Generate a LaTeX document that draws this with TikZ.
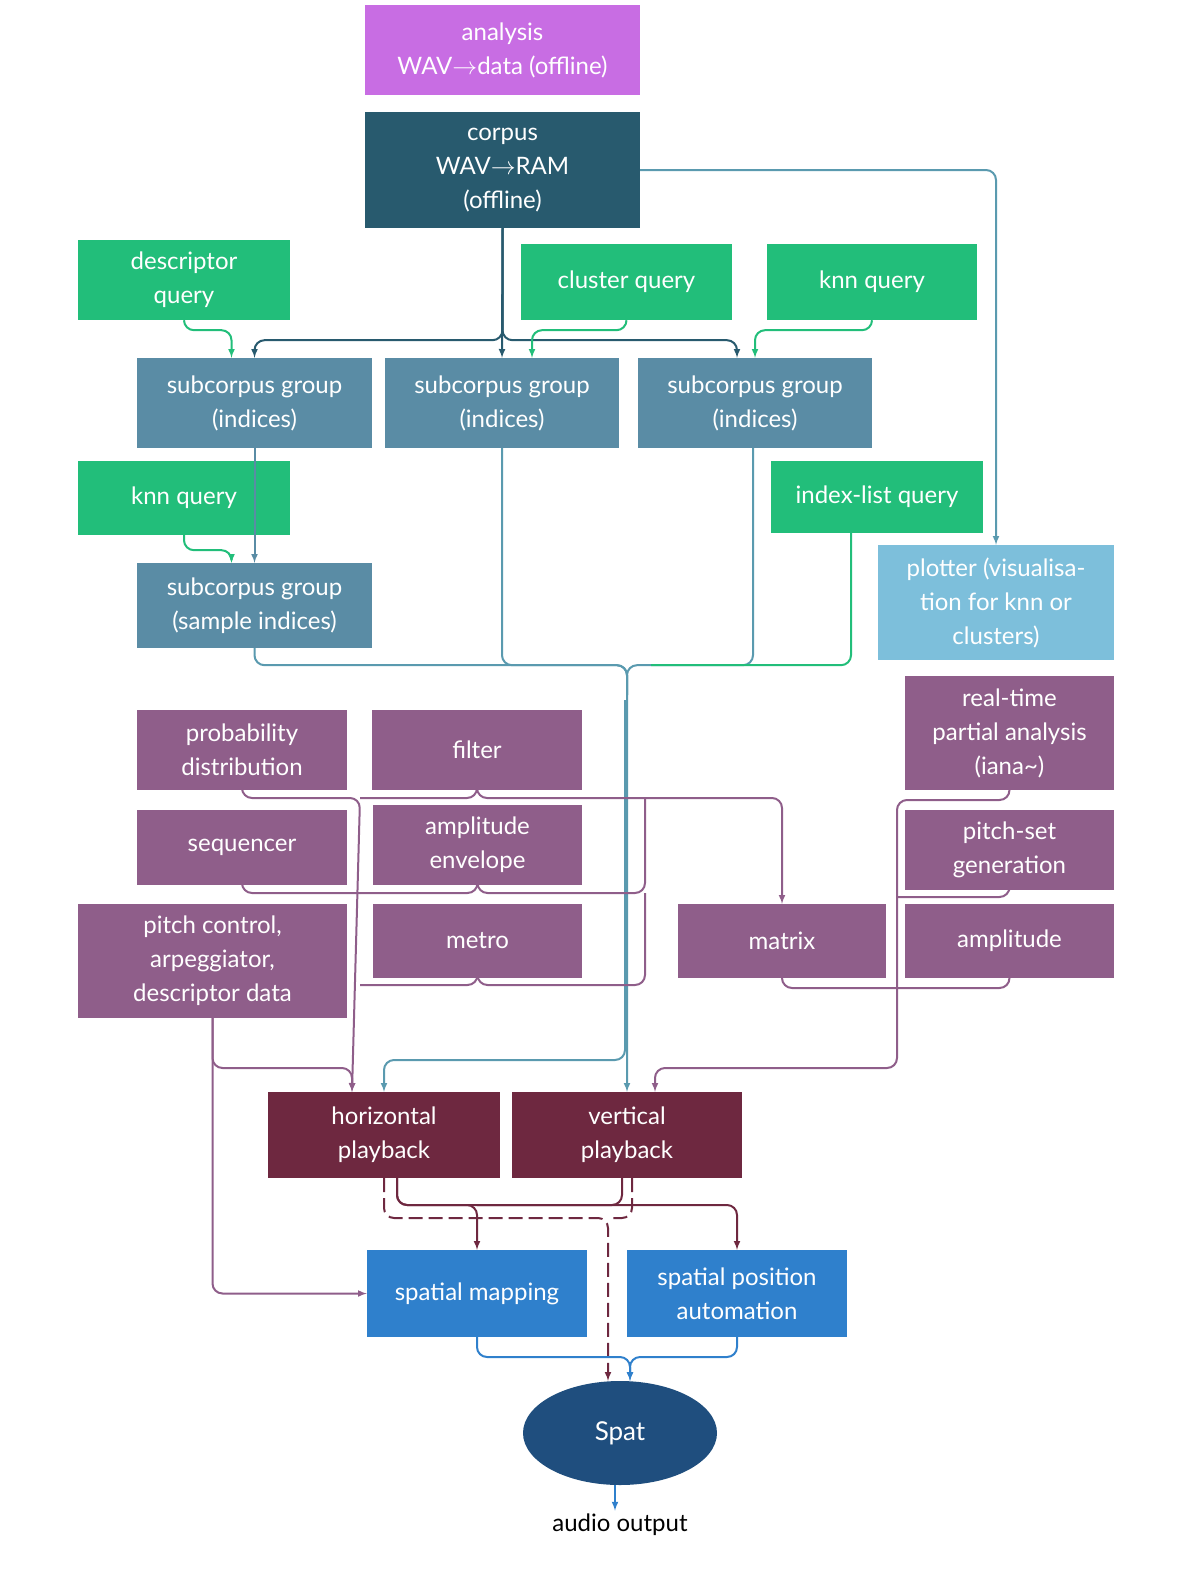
\documentclass[tikz,border=0pt]{standalone}
\usepackage{fontspec}
\setmainfont{Lato}
\usetikzlibrary{arrows,shapes.geometric}
\definecolor{cmag}{HTML}{C86DE3}
\definecolor{ccorp}{HTML}{285A6E}
\definecolor{cgreen}{HTML}{22BE7A}
\definecolor{csub}{HTML}{5A8CA5}
\definecolor{cplot}{HTML}{7DBFDB}
\definecolor{cpurp}{HTML}{8F5E8A}
\definecolor{cplay}{HTML}{6E2840}
\definecolor{cblue}{HTML}{2F80CC}
\definecolor{cspat}{HTML}{1F4E7E}
\definecolor{cteal}{HTML}{5A9AAF}
\tikzset{
  box/.style={fill=#1, text=white, inner sep=2pt, align=center, font=\fontsize{24}{34}\selectfont},
  ln/.style={draw=#1, line width=2pt, rounded corners=10pt, -latex},
  nt/.style={draw=#1, line width=2pt, rounded corners=10pt}
}
\begin{document}
\begin{tikzpicture}[x=1pt,y=-1pt]
\useasboundingbox (0,0) rectangle (1200,1583);
% sources
\node[box=cmag, minimum width=275, minimum height=90] (analysis) at (502.5,50) {analysis\\WAV$\rightarrow$data (offline)};
\node[box=ccorp, minimum width=275, minimum height=116] (corpus) at (502.5,170) {corpus\\WAV$\rightarrow$RAM\\(offline)};
\node[box=cgreen, minimum width=212, minimum height=80] (descq) at (184,280) {descriptor\\query};
\node[box=cgreen, minimum width=211, minimum height=76] (clusq) at (626.5,282) {cluster query};
\node[box=cgreen, minimum width=210, minimum height=76] (knnq) at (872,282) {knn query};
\node[box=csub, minimum width=235, minimum height=90] (subA) at (254.5,403) {subcorpus group\\(indices)};
\node[box=csub, minimum width=234, minimum height=90] (subB) at (502,403) {subcorpus group\\(indices)};
\node[box=csub, minimum width=234, minimum height=90] (subC) at (755,403) {subcorpus group\\(indices)};
\node[box=cgreen, minimum width=212, minimum height=74] (knnqb) at (184,498) {knn query};
\node[box=cgreen, minimum width=212, minimum height=72] (idxq) at (877,497) {index-list query};
\node[box=csub, minimum width=235, minimum height=85] (subD) at (254.5,605.5) {subcorpus group\\(sample indices)};
\node[box=cplot, minimum width=236, minimum height=115] (plotter) at (996,602.5) {plotter (visualisa-\\tion for knn or\\clusters)};
% control
\node[box=cpurp, minimum width=210, minimum height=80] (prob) at (242,750) {probability\\distribution};
\node[box=cpurp, minimum width=210, minimum height=80] (filter) at (477,750) {filter};
\node[box=cpurp, minimum width=209, minimum height=114] (iana) at (1009.5,733) {real-time\\partial analysis\\(iana\textasciitilde)};
\node[box=cpurp, minimum width=210, minimum height=75] (seq) at (242,847.5) {sequencer};
\node[box=cpurp, minimum width=209, minimum height=80] (env) at (477.5,845) {amplitude\\envelope};
\node[box=cpurp, minimum width=209, minimum height=80] (pset) at (1009.5,850) {pitch-set\\generation};
\node[box=cpurp, minimum width=269, minimum height=114] (pitch) at (212.5,961) {pitch control,\\arpeggiator,\\descriptor data};
\node[box=cpurp, minimum width=209, minimum height=74] (metro) at (477.5,941) {metro};
\node[box=cpurp, minimum width=208, minimum height=74] (matrix) at (782,941) {matrix};
\node[box=cpurp, minimum width=209, minimum height=74] (ampl) at (1009.5,941) {amplitude};
% playback and output
\node[box=cplay, minimum width=232, minimum height=86] (hplay) at (384,1135) {horizontal\\playback};
\node[box=cplay, minimum width=230, minimum height=86] (vplay) at (627,1135) {vertical\\playback};
\node[box=cblue, minimum width=220, minimum height=87] (smap) at (477,1293.5) {spatial mapping};
\node[box=cblue, minimum width=220, minimum height=87] (spos) at (737,1293.5) {spatial position\\automation};
\node[ellipse, fill=cspat, text=white, minimum width=194, minimum height=104, font=\fontsize{26}{30}\selectfont] (spat) at (620,1433) {Spat};
\node[font=\fontsize{24}{28}\selectfont] (out) at (620,1525) {audio output};

% corpus
\draw[ln=ccorp] (corpus.south) -- ++(0,112) -| (subA.north);
\draw[ln=ccorp] (corpus.south) -- (subB.north);
\draw[ln=ccorp] (corpus.south) -- ++(0,112) -| ([xshift=-18]subC.north);
\draw[ln=cteal] (corpus.east) -| (plotter.north);
\draw[ln=cgreen] (descq.south) -- ++(0,10) -| ([xshift=-23]subA.north);
\draw[ln=cgreen] (clusq.south) -- ++(0,10) -| ([xshift=30]subB.north);
\draw[ln=cgreen] (knnq.south) -- ++(0,10) -| ([xshift=0]subC.north);
\draw[ln=csub] (subA.south) -- (subD.north);
\draw[ln=cgreen] (knnqb.south) -- ++(0,15) -| ([xshift=-23]subD.north);
% subcorpora to playback
\draw[ln=cteal] (subD.south) -- ++(0,17) -| (vplay.north);
\draw[nt=cteal] (subB.south) |- ++(125,217) -- ++(0,30);
\draw[nt=cteal] ([xshift=-2]subC.south) |- ++(-126,217) -- ++(0,30);
\draw[nt=cgreen] ([xshift=-26]idxq.south) |- ++(-200,132);
\draw[ln=cteal] (625,700) -- (625,1060) -| (hplay.north);
% control to playback
\draw[ln=cpurp] (prob.south) |- (360,798) -- ([xshift=-32]hplay.north);
\draw[nt=cpurp] (filter.south) |- (360,798);
\draw[ln=cpurp] (filter.south) |- (782,798) -- (matrix.north);
\draw[nt=cpurp] (seq.south) |- (360,893);
\draw[nt=cpurp] (env.south) |- (360,893);
\draw[nt=cpurp] (env.south) |- (645,893) -- (645,798);
\draw[nt=cpurp] (metro.south) |- (360,985);
\draw[nt=cpurp] (metro.south) |- (645,985) -- (645,893);
\draw[ln=cpurp] (pitch.south) |- (352,1068) -- ([xshift=-32]hplay.north);
\draw[ln=cpurp] (pitch.south) |- (smap.west);
\draw[ln=cpurp] (iana.south) |- (897,800) -- (897,1068) -| ([xshift=28]vplay.north);
\draw[nt=cpurp] (pset.south) |- (897,897);
\draw[nt=cpurp] (ampl.south) |- (897,988);
\draw[nt=cpurp] (matrix.south) |- (897,988);
% playback to spatialisation
\draw[ln=cplay] ([xshift=13]hplay.south) |- (477,1205) -- (smap.north);
\draw[ln=cplay] ([xshift=13]hplay.south) |- (737,1205) -- (spos.north);
\draw[nt=cplay] ([xshift=-5]vplay.south) |- (477,1205);
\draw[ln=cplay, dashed, dash pattern=on 14pt off 6pt] (hplay.south) |- (608,1218) -- ([xshift=-12]spat.north);
\draw[nt=cplay, dashed, dash pattern=on 14pt off 6pt] ([xshift=5]vplay.south) |- (608,1218);
\draw[ln=cblue] (smap.south) |- (630,1357) -- ([xshift=10]spat.north);
\draw[ln=cblue] (spos.south) |- (630,1357) -- ([xshift=10]spat.north);
\draw[ln=cblue] ([xshift=-5]spat.south) -- ([xshift=-5]out.north);
\end{tikzpicture}
\end{document}
